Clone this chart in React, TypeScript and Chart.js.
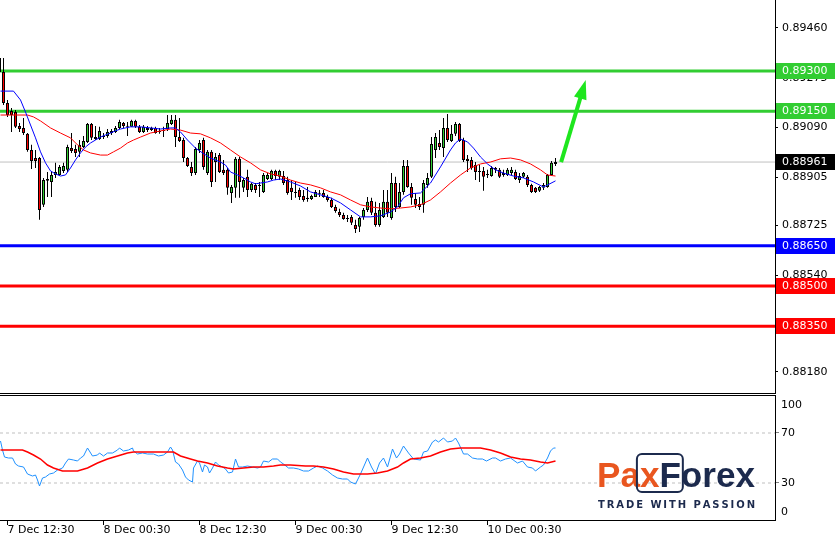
import React, { useEffect, useRef } from 'react';
import { Chart, registerables } from 'chart.js';

Chart.register(...registerables);

// ---- visible index window (30-minute candles) ----
const X_MIN = 0.125;
const X_MAX = 193.875;

// ---- candles (index 0 = 7 Dec 11:30) ----
const opens = [
  0.89296, 0.89296, 0.89181, 0.89151, 0.89147, 0.89095, 0.89088, 0.89066, 0.89006, 0.88976,
  0.88976, 0.88802, 0.88891, 0.88887, 0.88913, 0.88913, 0.88928, 0.88932, 0.89013, 0.89010,
  0.88999, 0.89017, 0.89036, 0.89103, 0.89054, 0.89047, 0.89058, 0.89058, 0.89069, 0.89073,
  0.89088, 0.89106, 0.89095, 0.89092, 0.89114, 0.89092, 0.89073, 0.89088, 0.89088, 0.89088,
  0.89077, 0.89080, 0.89084, 0.89103, 0.89118, 0.89054, 0.89043, 0.88976, 0.88943, 0.88920,
  0.89006, 0.89043, 0.88920, 0.88999, 0.88961, 0.88987, 0.88932, 0.88932, 0.88846, 0.88865,
  0.88973, 0.88865, 0.88906, 0.88857, 0.88876, 0.88876, 0.88850, 0.88898, 0.88898, 0.88928,
  0.88906, 0.88909, 0.88894, 0.88865, 0.88850, 0.88857, 0.88835, 0.88828, 0.88824, 0.88831,
  0.88843, 0.88846, 0.88831, 0.88820, 0.88794, 0.88775, 0.88764, 0.88753, 0.88757, 0.88727,
  0.88720, 0.88757, 0.88783, 0.88816, 0.88772, 0.88727, 0.88757, 0.88813, 0.88753, 0.88883,
  0.88794, 0.88850, 0.88946, 0.88868, 0.88824, 0.88805, 0.88802, 0.88876, 0.88906, 0.89006,
  0.89032, 0.89013, 0.89088, 0.89039, 0.89066, 0.89103, 0.89043, 0.88973, 0.88969, 0.88950,
  0.88928, 0.88928, 0.88917, 0.88909, 0.88932, 0.88932, 0.88920, 0.88913, 0.88920, 0.88924,
  0.88894, 0.88906, 0.88906, 0.88876, 0.88865, 0.88854, 0.88865, 0.88868, 0.88913, 0.88954,
];
const highs = [
  0.89359, 0.89348, 0.89192, 0.89162, 0.89155, 0.89106, 0.89125, 0.89069, 0.89025, 0.89006,
  0.88980, 0.88902, 0.88924, 0.88924, 0.88958, 0.88950, 0.88958, 0.89025, 0.89069, 0.89025,
  0.89043, 0.89058, 0.89106, 0.89106, 0.89095, 0.89092, 0.89069, 0.89084, 0.89084, 0.89095,
  0.89118, 0.89110, 0.89110, 0.89118, 0.89118, 0.89099, 0.89099, 0.89095, 0.89092, 0.89092,
  0.89088, 0.89092, 0.89136, 0.89136, 0.89136, 0.89125, 0.89051, 0.88980, 0.88961, 0.89017,
  0.89043, 0.89051, 0.89006, 0.89006, 0.88995, 0.88995, 0.88969, 0.88939, 0.88876, 0.88980,
  0.88980, 0.88902, 0.88932, 0.88883, 0.88883, 0.88887, 0.88920, 0.88920, 0.88932, 0.88932,
  0.88932, 0.88928, 0.88906, 0.88894, 0.88887, 0.88865, 0.88857, 0.88868, 0.88839, 0.88857,
  0.88857, 0.88857, 0.88839, 0.88828, 0.88802, 0.88787, 0.88772, 0.88764, 0.88764, 0.88746,
  0.88757, 0.88790, 0.88831, 0.88828, 0.88813, 0.88809, 0.88857, 0.88857, 0.88920, 0.88906,
  0.88883, 0.88969, 0.88969, 0.88883, 0.88846, 0.88831, 0.88894, 0.88920, 0.89054, 0.89069,
  0.89080, 0.89125, 0.89140, 0.89099, 0.89110, 0.89106, 0.89051, 0.88987, 0.88980, 0.88961,
  0.88950, 0.88943, 0.88932, 0.88946, 0.88943, 0.88939, 0.88932, 0.88939, 0.88943, 0.88932,
  0.88920, 0.88924, 0.88913, 0.88880, 0.88868, 0.88872, 0.88883, 0.88917, 0.88965, 0.88976,
];
const lows = [
  0.89285, 0.89173, 0.89129, 0.89073, 0.89088, 0.89073, 0.89062, 0.88999, 0.88935, 0.88939,
  0.88746, 0.88794, 0.88831, 0.88831, 0.88902, 0.88909, 0.88920, 0.88924, 0.88995, 0.88980,
  0.88980, 0.89013, 0.89032, 0.89043, 0.89043, 0.89043, 0.89047, 0.89051, 0.89062, 0.89069,
  0.89084, 0.89088, 0.89058, 0.89092, 0.89088, 0.89069, 0.89069, 0.89073, 0.89077, 0.89066,
  0.89066, 0.89054, 0.89077, 0.89099, 0.89017, 0.89036, 0.88961, 0.88943, 0.88909, 0.88913,
  0.88995, 0.88932, 0.88913, 0.88868, 0.88887, 0.88920, 0.88913, 0.88839, 0.88809, 0.88828,
  0.88828, 0.88850, 0.88831, 0.88850, 0.88846, 0.88831, 0.88846, 0.88894, 0.88894, 0.88894,
  0.88894, 0.88876, 0.88839, 0.88820, 0.88828, 0.88820, 0.88813, 0.88813, 0.88820, 0.88831,
  0.88831, 0.88828, 0.88813, 0.88790, 0.88772, 0.88757, 0.88746, 0.88738, 0.88727, 0.88697,
  0.88701, 0.88746, 0.88775, 0.88764, 0.88720, 0.88720, 0.88753, 0.88757, 0.88746, 0.88775,
  0.88790, 0.88839, 0.88865, 0.88802, 0.88790, 0.88783, 0.88772, 0.88865, 0.88902, 0.88976,
  0.89006, 0.88980, 0.89036, 0.89036, 0.89058, 0.89036, 0.88961, 0.88924, 0.88932, 0.88894,
  0.88887, 0.88854, 0.88902, 0.88906, 0.88920, 0.88902, 0.88906, 0.88909, 0.88913, 0.88894,
  0.88883, 0.88902, 0.88868, 0.88846, 0.88846, 0.88850, 0.88857, 0.88865, 0.88909, 0.88946,
];
const closes = [
  0.89348, 0.89181, 0.89136, 0.89136, 0.89092, 0.89084, 0.89069, 0.89006, 0.88965, 0.88965,
  0.88783, 0.88894, 0.88898, 0.88913, 0.88924, 0.88943, 0.88946, 0.89017, 0.89002, 0.88995,
  0.89025, 0.89039, 0.89103, 0.89051, 0.89047, 0.89077, 0.89054, 0.89073, 0.89077, 0.89088,
  0.89110, 0.89095, 0.89092, 0.89114, 0.89092, 0.89073, 0.89092, 0.89080, 0.89080, 0.89069,
  0.89073, 0.89077, 0.89106, 0.89118, 0.89054, 0.89039, 0.88976, 0.88946, 0.88920, 0.89010,
  0.89032, 0.88943, 0.88999, 0.88887, 0.88980, 0.88924, 0.88920, 0.88865, 0.88868, 0.88973,
  0.88887, 0.88894, 0.88857, 0.88880, 0.88857, 0.88872, 0.88913, 0.88913, 0.88928, 0.88909,
  0.88928, 0.88883, 0.88846, 0.88850, 0.88846, 0.88831, 0.88820, 0.88824, 0.88835, 0.88850,
  0.88846, 0.88831, 0.88820, 0.88794, 0.88779, 0.88764, 0.88749, 0.88749, 0.88735, 0.88712,
  0.88753, 0.88783, 0.88813, 0.88772, 0.88727, 0.88783, 0.88813, 0.88772, 0.88883, 0.88794,
  0.88850, 0.88946, 0.88868, 0.88828, 0.88802, 0.88794, 0.88883, 0.88902, 0.89028, 0.89054,
  0.89017, 0.89088, 0.89043, 0.89066, 0.89103, 0.89039, 0.88969, 0.88965, 0.88939, 0.88924,
  0.88924, 0.88906, 0.88913, 0.88939, 0.88939, 0.88906, 0.88913, 0.88932, 0.88932, 0.88898,
  0.88909, 0.88920, 0.88876, 0.88850, 0.88850, 0.88868, 0.88876, 0.88913, 0.88958, 0.88961,
];

// ---- moving averages on price (index, price) ----
const maFast = [
  [0.25, 0.89225], [3.5, 0.89225], [5.25, 0.89192], [6.5, 0.89147], [7.75, 0.89099], [9, 0.89051],
  [10.25, 0.88999], [11.5, 0.88958], [12.75, 0.88928], [14, 0.88917], [15.25, 0.88909], [16.5, 0.88913],
  [17.75, 0.88939], [19, 0.88969], [20.25, 0.88995], [21.5, 0.89017], [22.75, 0.89032], [24, 0.89043],
  [25.25, 0.89054], [26.5, 0.89062], [27.75, 0.89069], [29, 0.89077], [30.25, 0.89084], [31.5, 0.89088],
  [32.75, 0.89092], [34, 0.89092], [35.25, 0.89092], [37.75, 0.89088], [40.25, 0.89084], [42.75, 0.89088],
  [44, 0.89088], [45.25, 0.89073], [47, 0.89043], [49, 0.89013], [50.75, 0.88995], [52.75, 0.88976],
  [55.25, 0.88961], [56.5, 0.88950], [57.75, 0.88924], [59.5, 0.88913], [61, 0.88902], [62.75, 0.88887],
  [64, 0.88880], [65.25, 0.88883], [67, 0.88887], [68.5, 0.88894], [70.25, 0.88898], [72.75, 0.88887],
  [75.25, 0.88872], [77.75, 0.88850], [80.25, 0.88839], [82.75, 0.88828], [85.25, 0.88809], [87.75, 0.88783],
  [90.25, 0.88757], [92.75, 0.88757], [95.25, 0.88761], [97.75, 0.88775], [99.5, 0.88794], [101, 0.88828],
  [102.75, 0.88843], [105.25, 0.88846], [107.75, 0.88883], [110.25, 0.88943], [112.75, 0.89006], [114, 0.89032],
  [115.25, 0.89047], [117, 0.89036], [118.5, 0.89013], [120.25, 0.88980], [122, 0.88954], [124, 0.88932],
  [126, 0.88920], [128.5, 0.88909], [131, 0.88902], [133.5, 0.88887], [136, 0.88868], [139, 0.88891],
];
const maSlow = [
  [0.25, 0.89136], [7, 0.89136], [8.5, 0.89129], [10.25, 0.89114], [12.75, 0.89088], [15.25, 0.89069],
  [17.75, 0.89051], [19.5, 0.89025], [21, 0.89006], [22.75, 0.88995], [25.25, 0.88987], [27, 0.88987],
  [28.5, 0.88999], [30.25, 0.89013], [32, 0.89032], [33.5, 0.89043], [35.25, 0.89054], [37.75, 0.89069],
  [40.25, 0.89077], [42.75, 0.89084], [45.25, 0.89080], [47.75, 0.89069], [50.25, 0.89066], [52.75, 0.89051],
  [55.25, 0.89032], [57.75, 0.89006], [60.25, 0.88980], [62.75, 0.88958], [65.25, 0.88932], [67.75, 0.88917],
  [70.25, 0.88909], [72.75, 0.88894], [75.25, 0.88883], [77.75, 0.88876], [80.25, 0.88865], [82.75, 0.88850],
  [85.25, 0.88839], [87.75, 0.88820], [90.25, 0.88802], [92.75, 0.88794], [95.25, 0.88790], [97.75, 0.88787],
  [100.25, 0.88790], [102.75, 0.88794], [105.25, 0.88802], [107.75, 0.88820], [110.25, 0.88850], [112.75, 0.88883],
  [115.25, 0.88913], [117.75, 0.88939], [120.25, 0.88954], [122.75, 0.88961], [125.25, 0.88973], [127.75, 0.88976],
  [130.25, 0.88969], [132.75, 0.88954], [135.25, 0.88932], [137, 0.88913], [139, 0.88909],
];

// ---- RSI panel (index, value) ----
const rsiLine = [
  [0.25, 63.6], [0.75, 56.4], [1.25, 50.8], [2.25, 50], [3.25, 50], [4, 45.2], [4.75, 43.6], [6, 42.8],
  [7, 37.2], [8.25, 35.6], [9, 36.4], [9.5, 32.4], [10, 27.6], [10.75, 34], [11.5, 34.8], [12.5, 37.2],
  [13.5, 38], [14.5, 40.4], [15.75, 42], [16.5, 46], [17.25, 49.2], [18.5, 48.4], [19.5, 47.6], [20.25, 50],
  [21, 51.6], [22, 58], [23.25, 51.6], [24.5, 52.4], [25, 54], [26, 51.6], [27, 54], [28.25, 54],
  [29.5, 56.4], [30, 58], [31, 55.6], [32.25, 56.4], [33.25, 58], [33.5, 55.6], [34.5, 53.2], [35.75, 54],
  [37, 53.2], [38.5, 53.2], [39.75, 51.6], [41, 52.4], [42, 54.8], [42.75, 58.8], [43.25, 56.4], [44, 46.8],
  [44.75, 45.2], [45.75, 40.4], [46.5, 34.8], [47.25, 32.4], [48.25, 30.8], [48.5, 42], [49.5, 47.6], [50, 46],
  [50.75, 38.8], [51.25, 44.4], [52, 42.8], [52.5, 38], [53.25, 42], [54, 46.8], [54.75, 44.4], [55.75, 42.8],
  [56.5, 41.2], [57.25, 38], [58.25, 38.8], [59, 49.2], [59.75, 42.8], [60.75, 42.8], [62, 43.6], [63.25, 42.8],
  [64.5, 42], [65.25, 42.8], [66, 47.6], [67.25, 46.8], [68.25, 49.2], [69.5, 49.2], [70.25, 46.8], [71, 45.2],
  [72.25, 42], [73.5, 42], [74.75, 41.2], [76, 39.6], [77.25, 39.6], [78.5, 42], [79.5, 43.6], [80.75, 42],
  [82, 39.6], [83.25, 36.4], [84.5, 34], [85.75, 33.2], [87, 33.2], [87.75, 30.8], [89, 29.2], [90.25, 37.2],
  [92, 50], [93, 42.8], [94, 37.2], [95, 46], [96, 50], [97, 42.8], [98.25, 57.2], [99.25, 50],
  [100, 53.2], [101, 59.6], [102.25, 54], [103.5, 49.2], [105.25, 48.4], [106, 54.8], [107, 55.6], [108.25, 62.8],
  [109, 64.4], [109.75, 62.8], [111, 66], [112, 62.8], [113.25, 63.6], [114, 66], [114.75, 62], [116, 53.2],
  [117, 53.2], [118.25, 50], [119.5, 49.2], [120.75, 49.2], [121.75, 47.6], [123.25, 50], [124, 50], [125.25, 47.6],
  [126.5, 49.2], [127.75, 50], [129.5, 46], [130.75, 47.6], [132, 42.8], [133.25, 42], [134, 39.6], [135.25, 42.8],
  [136, 44.4], [137, 50], [137.75, 55.6], [138.5, 58], [139, 58],
];
const rsiSignal = [
  [0.25, 56.4], [5.75, 56.4], [7, 54.8], [8.5, 52.4], [10.25, 49.2], [12, 44.4], [13.5, 42], [15.75, 39.6],
  [19.5, 39.6], [22, 42], [24.5, 46], [27, 49.2], [29.5, 51.6], [32, 54], [33.5, 54.8], [43.5, 54.8],
  [45.25, 51.6], [47.75, 49.2], [49.5, 47.6], [52, 46], [54.5, 43.6], [57, 42], [58.5, 41.2], [61, 42],
  [63.5, 42.8], [66, 42.8], [68.5, 43.6], [70.25, 44.4], [72.75, 44.4], [76.5, 43.6], [78.5, 43.6], [81, 42.8],
  [83.5, 41.2], [86, 38.8], [88.5, 37.2], [92, 37.2], [94.5, 38], [97, 39.6], [99.5, 42.8], [101, 46],
  [102.75, 49.2], [105.25, 50], [107.75, 51.6], [110.25, 54.8], [112.75, 57.2], [115.25, 58], [120.25, 58],
  [122.75, 56.4], [125.25, 54], [127.75, 50.8], [130.25, 49.2], [132.75, 48.4], [135.25, 46.8], [137, 46],
  [139, 47.6],
];

// ---- levels, ticks, labels ----
const resistanceLevels = [0.893, 0.8915];
const pivotLevel = 0.8865;
const supportLevels = [0.885, 0.8835];
const currentPrice = 0.88961;
const priceTicks = [0.8946, 0.89275, 0.8909, 0.88905, 0.88725, 0.8854, 0.8836, 0.8818];
const priceMin = 0.88098;
const priceMax = 0.89564;
const rsiLevels = [70, 30];
const rsiTickValues = [92.4, 70, 30, 6.8];
const rsiTickLabels = ['100', '70', '30', '0'];
const timeTickIndex = [2, 26, 50, 74, 98, 122];
const timeLabels = ['7 Dec 12:30', '8 Dec 00:30', '8 Dec 12:30', '9 Dec 00:30', '9 Dec 12:30', '10 Dec 00:30'];
const arrowFrom = [140.4, 0.88961];
const arrowTo = [146.55, 0.89266];

const GREEN = '#32CD32';
const RED = '#FF0000';
const BLUE = '#0000FF';
const AXIS_FONT = { family: '"DejaVu Sans", sans-serif', size: 11, lineHeight: 1 };
const MAIN_H = 394;
const RSI_H = 147;

const pts = (arr: number[][]) => arr.map(([x, y]) => ({ x, y }));
const hline = (v: number) => [{ x: X_MIN, y: v }, { x: X_MAX, y: v }];

function levelDataset(v: number, color: string, width: number, order: number, dash: number[] = []) {
  return {
    type: 'line', data: hline(v), borderColor: color, borderWidth: width, borderDash: dash,
    pointRadius: 0, fill: false, tension: 0, order,
  };
}

const mainPlugin = {
  id: 'mainDecor',
  afterDraw(chart: any) {
    const { ctx, chartArea: ca, scales } = chart;
    const xs = scales.x, ys = scales.y;
    ctx.save();
    // bottom frame of the price panel
    ctx.strokeStyle = '#000';
    ctx.lineWidth = 1;
    ctx.beginPath();
    ctx.moveTo(0, ca.bottom - 0.5);
    ctx.lineTo(ca.right + 1, ca.bottom - 0.5);
    ctx.stroke();
    // price boxes on the axis
    const boxes: [number, string][] = [
      ...resistanceLevels.map((v) => [v, GREEN] as [number, string]),
      [pivotLevel, BLUE],
      ...supportLevels.map((v) => [v, RED] as [number, string]),
      [currentPrice, '#000000'],
    ];
    ctx.font = '11px "DejaVu Sans", sans-serif';
    ctx.textBaseline = 'middle';
    ctx.textAlign = 'left';
    for (const [v, c] of boxes) {
      const y = Math.round(ys.getPixelForValue(v));
      ctx.fillStyle = c;
      ctx.fillRect(ca.right + 1, y - 8, chart.width - ca.right - 1, 16);
      ctx.fillStyle = '#fff';
      ctx.fillText(v.toFixed(5), ca.right + 7, y + 0.5);
    }
    // arrow
    const x0 = xs.getPixelForValue(arrowFrom[0]);
    const y0 = ys.getPixelForValue(arrowFrom[1]);
    const x1 = xs.getPixelForValue(arrowTo[0]);
    const y1 = ys.getPixelForValue(arrowTo[1]);
    const len = Math.hypot(x1 - x0, y1 - y0);
    const ux = (x1 - x0) / len, uy = (y1 - y0) / len;
    const headLen = 19, headW = 6.5;
    const bx = x1 - ux * headLen, by = y1 - uy * headLen;
    const arrowColor = '#1EE61E';
    ctx.strokeStyle = arrowColor;
    ctx.fillStyle = arrowColor;
    ctx.lineWidth = 4;
    ctx.lineCap = 'butt';
    ctx.beginPath();
    ctx.moveTo(x0, y0);
    ctx.lineTo(bx + ux * 2, by + uy * 2);
    ctx.stroke();
    ctx.beginPath();
    ctx.moveTo(x1, y1);
    ctx.lineTo(bx - uy * headW, by + ux * headW);
    ctx.lineTo(bx + uy * headW, by - ux * headW);
    ctx.closePath();
    ctx.fill();
    ctx.restore();
  },
};

function drawLogo(ctx: CanvasRenderingContext2D, top: number) {
  const orange = '#E9561F';
  const navy = '#1C2A4D';
  const left = 597;
  const targetW = 158;
  const base = 487 - top;
  ctx.save();
  ctx.textAlign = 'left';
  ctx.textBaseline = 'alphabetic';
  let size = 36;
  ctx.font = `bold ${size}px "Liberation Sans", sans-serif`;
  const w0 = ctx.measureText('PaxForex').width;
  size = (size * targetW) / w0;
  ctx.font = `bold ${size}px "Liberation Sans", sans-serif`;
  let x = left;
  ctx.fillStyle = orange;
  ctx.fillText('Pa', x, base);
  x += ctx.measureText('Pa').width;
  const xStart = x;
  ctx.fillText('x', x, base);
  x += ctx.measureText('x').width;
  ctx.fillStyle = navy;
  ctx.fillText('F', x, base);
  const fEnd = x + ctx.measureText('F').width;
  ctx.fillText('orex', fEnd, base);
  ctx.strokeStyle = navy;
  ctx.lineWidth = 2;
  ctx.beginPath();
  const bx = xStart - 3, byy = 454 - top, bw = fEnd - xStart + 5, bh = 38, r = 5;
  ctx.moveTo(bx + r, byy);
  ctx.arcTo(bx + bw, byy, bx + bw, byy + bh, r);
  ctx.arcTo(bx + bw, byy + bh, bx, byy + bh, r);
  ctx.arcTo(bx, byy + bh, bx, byy, r);
  ctx.arcTo(bx, byy, bx + bw, byy, r);
  ctx.closePath();
  ctx.stroke();
  // tagline
  const tag = 'TRADE WITH PASSION';
  ctx.font = 'bold 10px "DejaVu Sans", sans-serif';
  ctx.fillStyle = navy;
  const chars = tag.split('');
  const widths = chars.map((c) => ctx.measureText(c).width);
  const sum = widths.reduce((a, b) => a + b, 0);
  const sp = (157 - sum) / (chars.length - 1);
  let tx = 598;
  chars.forEach((c, i) => {
    ctx.fillText(c, tx, 508 - top);
    tx += widths[i] + sp;
  });
  ctx.restore();
}

const rsiPlugin = {
  id: 'rsiDecor',
  afterDatasetsDraw(chart: any) {
    drawLogo(chart.ctx, MAIN_H);
  },
  afterDraw(chart: any) {
    const { ctx, chartArea: ca } = chart;
    ctx.save();
    ctx.strokeStyle = '#000';
    ctx.lineWidth = 1;
    ctx.beginPath();
    ctx.moveTo(0, ca.top - 0.5);
    ctx.lineTo(ca.right + 1, ca.top - 0.5);
    ctx.stroke();
    ctx.restore();
  },
};

export default function App() {
  const mainRef = useRef<HTMLCanvasElement>(null);
  const rsiRef = useRef<HTMLCanvasElement>(null);

  useEffect(() => {
    const bodyColors = opens.map((o, i) => (closes[i] >= o ? GREEN : RED));
    const bodies = opens.map((o, i) => ({ x: i, y: [o, closes[i]] }));
    const wicks = lows.map((l, i) => ({ x: i, y: [l, highs[i]] }));

    const main = new Chart(mainRef.current as HTMLCanvasElement, {
      type: 'bar',
      data: {
        datasets: [
          { type: 'line', data: pts(maFast), borderColor: BLUE, borderWidth: 1, pointRadius: 0, fill: false, tension: 0, order: 0 },
          { type: 'line', data: pts(maSlow), borderColor: RED, borderWidth: 1, pointRadius: 0, fill: false, tension: 0, order: 0 },
          {
            type: 'bar', data: bodies, backgroundColor: bodyColors, borderColor: '#000', borderWidth: 1,
            borderSkipped: false, barThickness: 3, grouped: false, inflateAmount: 0, minBarLength: 1, order: 1,
          },
          {
            type: 'bar', data: wicks, backgroundColor: '#000', borderWidth: 0,
            barThickness: 1, grouped: false, inflateAmount: 0, order: 2,
          },
          ...resistanceLevels.map((v) => levelDataset(v, GREEN, 3, 3)),
          levelDataset(pivotLevel, BLUE, 3, 3),
          ...supportLevels.map((v) => levelDataset(v, RED, 3, 3)),
          levelDataset(currentPrice, '#C0C0C0', 1, 4),
        ] as any,
      },
      options: {
        responsive: false,
        animation: false,
        devicePixelRatio: 1,
        events: [],
        layout: { padding: 0 },
        plugins: { legend: { display: false }, tooltip: { enabled: false } },
        scales: {
          x: { type: 'linear', min: X_MIN, max: X_MAX, display: false, offset: false },
          y: {
            type: 'linear', position: 'right', min: priceMin, max: priceMax,
            afterBuildTicks: (s: any) => { s.ticks = priceTicks.map((v) => ({ value: v })); },
            afterFit: (s: any) => { s.width = 60; s.paddingTop = 0; s.paddingBottom = 0; },
            ticks: {
              autoSkip: false, padding: 4, color: '#000', font: AXIS_FONT,
              callback: (v: any) => Number(v).toFixed(5),
            },
            grid: { display: true, drawOnChartArea: false, drawTicks: true, tickLength: 3, color: '#000', tickColor: '#000' },
            border: { display: true, color: '#000', width: 1 },
          },
        },
      } as any,
      plugins: [mainPlugin],
    });

    const rsi = new Chart(rsiRef.current as HTMLCanvasElement, {
      type: 'line',
      data: {
        datasets: [
          { data: pts(rsiLine), borderColor: '#1E90FF', borderWidth: 1, pointRadius: 0, fill: false, tension: 0, order: 1 },
          { data: pts(rsiSignal), borderColor: RED, borderWidth: 1.5, pointRadius: 0, fill: false, tension: 0, order: 0 },
          ...rsiLevels.map((v) => levelDataset(v, '#C0C0C0', 1, 5, [3, 3])),
        ] as any,
      },
      options: {
        responsive: false,
        animation: false,
        devicePixelRatio: 1,
        events: [],
        layout: { padding: { top: 2, left: 0, right: 0, bottom: 0 } },
        plugins: { legend: { display: false }, tooltip: { enabled: false } },
        scales: {
          x: {
            type: 'linear', min: X_MIN, max: X_MAX, position: 'bottom', offset: false,
            afterBuildTicks: (s: any) => { s.ticks = timeTickIndex.map((v) => ({ value: v })); },
            afterFit: (s: any) => { s.height = 21; s.paddingLeft = 0; s.paddingRight = 0; },
            ticks: {
              autoSkip: false, maxRotation: 0, minRotation: 0, align: 'start', padding: 0,
              color: '#000', font: AXIS_FONT,
              callback: (_v: any, i: number) => timeLabels[i],
            },
            grid: { display: true, drawOnChartArea: false, drawTicks: true, tickLength: 5, color: '#000', tickColor: '#000' },
            border: { display: true, color: '#000', width: 1 },
          },
          y: {
            type: 'linear', position: 'right', min: 0.4, max: 99.6,
            afterBuildTicks: (s: any) => { s.ticks = rsiTickValues.map((v) => ({ value: v })); },
            afterFit: (s: any) => { s.width = 60; s.paddingTop = 0; s.paddingBottom = 0; },
            ticks: {
              autoSkip: false, padding: 2, color: '#000', font: AXIS_FONT,
              callback: (_v: any, i: number) => rsiTickLabels[i],
            },
            grid: {
              display: true, drawOnChartArea: false, drawTicks: true, tickLength: 4,
              tickColor: (c: any) => (c.tick && rsiLevels.includes(c.tick.value) ? '#808080' : 'rgba(0,0,0,0)'),
            },
            border: { display: true, color: '#000', width: 1 },
          },
        },
      } as any,
      plugins: [rsiPlugin],
    });

    return () => {
      main.destroy();
      rsi.destroy();
    };
  }, []);

  return (
    <div style={{ position: 'fixed', left: 0, top: 0, width: 835, height: 541, background: '#fff' }}>
      <canvas
        ref={mainRef}
        width={835}
        height={MAIN_H}
        style={{ position: 'absolute', left: 0, top: 0, width: 835, height: MAIN_H }}
      />
      <canvas
        ref={rsiRef}
        width={835}
        height={RSI_H}
        style={{ position: 'absolute', left: 0, top: MAIN_H, width: 835, height: RSI_H }}
      />
    </div>
  );
}
